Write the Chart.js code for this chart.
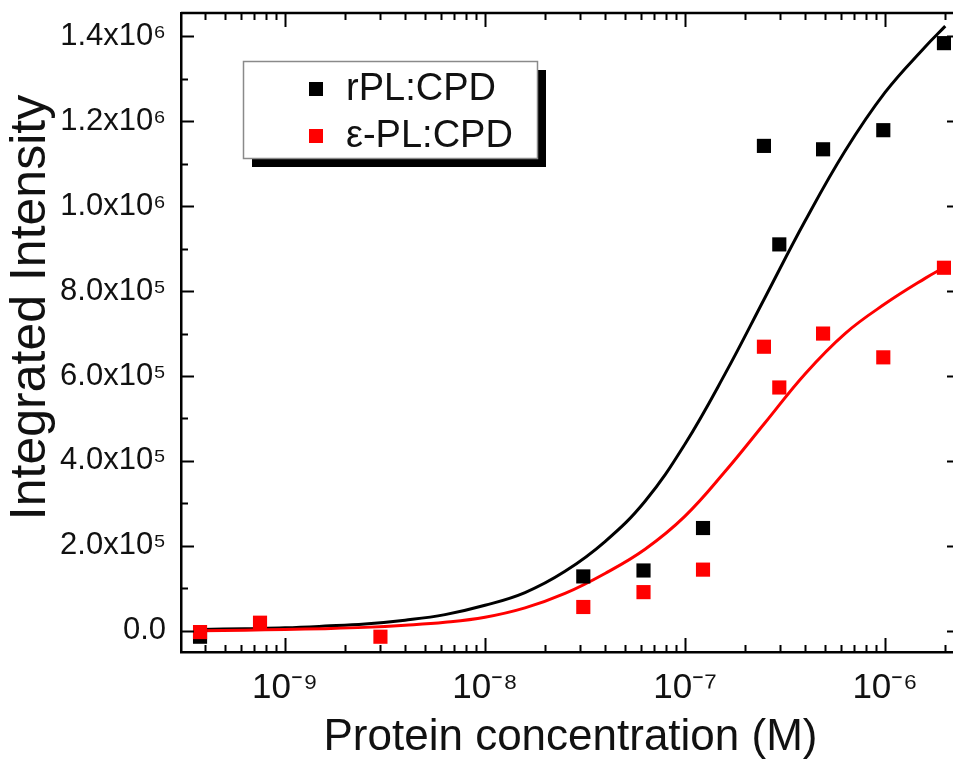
<!DOCTYPE html>
<html>
<head>
<meta charset="utf-8">
<title>Integrated intensity vs protein concentration</title>
<script src="https://cdn.jsdelivr.net/npm/chart.js@4.4.1/dist/chart.umd.min.js"></script>
<style>
  html, body { margin: 0; padding: 0; background: #fff; overflow: hidden; }
  #wrap { width: 970px; height: 766px; }
</style>
</head>
<body>
<div id="wrap"><canvas id="chart" width="970" height="766"></canvas></div>
<script>
// Measured points (concentration in M)
const rplConc = [3.76e-10, 3.1e-8, 6.2e-8, 1.23e-7, 2.48e-7, 2.96e-7, 4.9e-7, 9.8e-7, 1.97e-6];
const rplIntensity = [-1.4e4, 1.28e5, 1.42e5, 2.42e5, 1.142e6, 9.1e5, 1.134e6, 1.179e6, 1.384e6];
const eplConc = [3.76e-10, 7.5e-10, 3.0e-9, 3.1e-8, 6.2e-8, 1.23e-7, 2.48e-7, 2.96e-7, 4.9e-7, 9.8e-7, 1.97e-6];
const eplIntensity = [-3e3, 1.9e4, -1.4e4, 5.6e4, 9.1e4, 1.44e5, 6.69e5, 5.73e5, 7.0e5, 6.44e5, 8.55e5];

// Fitted curves at fixed concentrations
const fitConc = [3.8e-10, 6.31e-10, 1e-9, 1.585e-9, 2.512e-9, 3.981e-9, 6.31e-9, 1e-8, 1.585e-8, 2.512e-8,
                 3.981e-8, 6.31e-8, 1e-7, 1.585e-7, 2.512e-7, 3.981e-7, 6.31e-7, 1e-6, 1.585e-6, 2e-6];
const rplFitIntensity = [3e3, 5e3, 7e3, 1.1e4, 1.6e4, 2.5e4, 3.8e4, 6.0e4, 9.0e4, 1.4e5,
                         2.1e5, 3.05e5, 4.4e5, 6.05e5, 7.85e5, 9.65e5, 1.13e6, 1.268e6, 1.375e6, 1.424e6];
const eplFitIntensity = [0, 1.5e3, 3e3, 5e3, 8e3, 1.3e4, 2.0e4, 3.2e4, 5.4e4, 8.8e4,
                         1.35e5, 1.92e5, 2.7e5, 3.75e5, 4.9e5, 6.05e5, 7.0e5, 7.7e5, 8.3e5, 8.57e5];

// Axes
const xTickValues = [1e-9, 1e-8, 1e-7, 1e-6];
const xTickLabels = ['10⁻⁹', '10⁻⁸', '10⁻⁷', '10⁻⁶'];
const yTickValues = [0, 2e5, 4e5, 6e5, 8e5, 1e6, 1.2e6, 1.4e6];
const yTickLabels = ['0.0', '2.0x10⁵', '4.0x10⁵', '6.0x10⁵', '8.0x10⁵', '1.0x10⁶', '1.2x10⁶', '1.4x10⁶'];
const yMinorValues = [1e5, 3e5, 5e5, 7e5, 9e5, 1.1e6, 1.3e6];
const legendLabels = ['rPL:CPD', 'ε-PL:CPD'];
const seriesColors = ['#000000', '#ff0000'];

const FONT = '"Liberation Sans", Arial, Helvetica, sans-serif';

function toPoints(xs, ys) {
    return xs.map((x, i) => ({ x: x, y: ys[i] }));
}

// minor ticks of the log axis: 2..9 x 10^n
function logMinorTicks(min, max) {
    const out = [];
    for (let e = Math.floor(Math.log10(min)); e <= Math.ceil(Math.log10(max)); e++) {
        for (let k = 2; k <= 9; k++) {
            const v = k * Math.pow(10, e);
            if (v > min && v < max) out.push(v);
        }
    }
    return out;
}

// Inward tick marks on all four sides, top/right frame, and the boxed legend
const framePlugin = {
    id: 'frame',
    afterDraw(chart) {
        const { ctx, chartArea: a, scales } = chart;
        const x = scales.x, y = scales.y;
        ctx.save();
        ctx.strokeStyle = '#000';
        ctx.lineWidth = 2.5;
        ctx.beginPath();
        ctx.moveTo(a.left, a.top);
        ctx.lineTo(a.right, a.top);
        ctx.lineTo(a.right, a.bottom);
        ctx.stroke();

        ctx.lineWidth = 2;
        const xTick = (v, len) => {
            const px = Math.round(x.getPixelForValue(v)) + 0.5;
            ctx.moveTo(px, a.bottom);
            ctx.lineTo(px, a.bottom - len);
            ctx.moveTo(px, a.top);
            ctx.lineTo(px, a.top + len);
        };
        const yTick = (v, len) => {
            const py = Math.round(y.getPixelForValue(v)) + 0.5;
            ctx.moveTo(a.left, py);
            ctx.lineTo(a.left + len, py);
            ctx.moveTo(a.right, py);
            ctx.lineTo(a.right - len, py);
        };
        ctx.beginPath();
        xTickValues.forEach(v => xTick(v, 14));
        logMinorTicks(x.min, x.max).forEach(v => xTick(v, 7));
        yTickValues.forEach(v => yTick(v, 13));
        yMinorValues.forEach(v => yTick(v, 7));
        ctx.stroke();

        // legend box with drop shadow
        const bx = 243, by = 61, bw = 294, bh = 97;
        ctx.fillStyle = '#000';
        ctx.fillRect(bx + 9, by + 9, bw, bh);
        ctx.fillStyle = '#fff';
        ctx.fillRect(bx, by, bw, bh);
        ctx.strokeStyle = '#8a8a8a';
        ctx.lineWidth = 1.5;
        ctx.strokeRect(bx + 0.5, by + 0.5, bw, bh);

        ctx.font = '38px ' + FONT;
        ctx.textBaseline = 'middle';
        ctx.textAlign = 'left';
        legendLabels.forEach((label, i) => {
            const cy = 89 + i * 47;
            ctx.fillStyle = seriesColors[i];
            ctx.fillRect(309, cy - 7, 14, 14);
            ctx.fillStyle = '#111';
            ctx.fillText(label, 346, cy + 1);
        });
        ctx.restore();
    }
};

const ctx = document.getElementById('chart').getContext('2d');

new Chart(ctx, {
    type: 'scatter',
    data: {
        datasets: [
            {
                label: legendLabels[1],
                data: toPoints(eplConc, eplIntensity),
                backgroundColor: seriesColors[1],
                borderColor: seriesColors[1],
                borderWidth: 0,
                pointStyle: 'rect',
                pointRadius: 10,
                pointHoverRadius: 10
            },
            {
                label: legendLabels[0],
                data: toPoints(rplConc, rplIntensity),
                backgroundColor: seriesColors[0],
                borderColor: seriesColors[0],
                borderWidth: 0,
                pointStyle: 'rect',
                pointRadius: 10,
                pointHoverRadius: 10
            },
            {
                label: legendLabels[1] + ' fit',
                data: toPoints(fitConc, eplFitIntensity),
                showLine: true,
                borderColor: seriesColors[1],
                borderWidth: 3,
                pointRadius: 0,
                tension: 0.4
            },
            {
                label: legendLabels[0] + ' fit',
                data: toPoints(fitConc, rplFitIntensity),
                showLine: true,
                borderColor: seriesColors[0],
                borderWidth: 3,
                pointRadius: 0,
                tension: 0.4
            }
        ]
    },
    options: {
        responsive: false,
        animation: false,
        devicePixelRatio: 1,
        layout: { padding: { left: 0, right: 10, top: 13, bottom: 0 } },
        plugins: {
            legend: { display: false },
            tooltip: { enabled: false }
        },
        scales: {
            x: {
                type: 'logarithmic',
                min: 3.02e-10,
                max: 2.37e-6,
                grid: { display: false, drawTicks: false },
                border: { display: true, color: '#000', width: 2.5 },
                afterBuildTicks: scale => {
                    scale.ticks = xTickValues.map(v => ({ value: v, major: true }));
                },
                afterFit: scale => {
                    scale.height = 114;
                    scale.paddingLeft = 0;
                    scale.paddingRight = 0;
                },
                ticks: {
                    autoSkip: false,
                    maxRotation: 0,
                    padding: 15,
                    color: '#111',
                    font: { family: FONT, size: 35 },
                    callback: (value, index) => xTickLabels[index]
                },
                title: {
                    display: true,
                    text: 'Protein concentration (M)',
                    color: '#111',
                    font: { family: FONT, size: 44 },
                    padding: { top: 0, bottom: 2 }
                }
            },
            y: {
                type: 'linear',
                min: -5e4,
                max: 1.455e6,
                grid: { display: false, drawTicks: false },
                border: { display: true, color: '#000', width: 2.5 },
                afterBuildTicks: scale => {
                    scale.ticks = yTickValues.map(v => ({ value: v }));
                },
                afterFit: scale => {
                    scale.width = 181;
                    scale.paddingTop = 0;
                    scale.paddingBottom = 0;
                },
                ticks: {
                    autoSkip: false,
                    padding: 15,
                    color: '#111',
                    font: { family: FONT, size: 31 },
                    callback: (value, index) => yTickLabels[index]
                },
                title: {
                    display: true,
                    text: '\u2002\u2002Integrated Intensity',
                    color: '#111',
                    font: { family: FONT, size: 50 },
                    padding: { top: 1, bottom: 0 }
                }
            }
        }
    },
    plugins: [framePlugin]
});
</script>
</body>
</html>
